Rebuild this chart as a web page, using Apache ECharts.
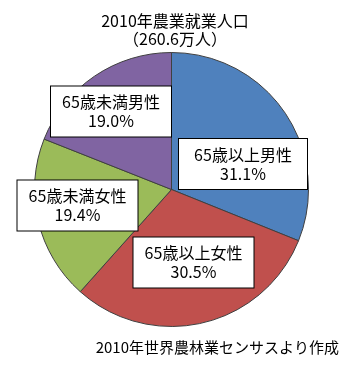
<!DOCTYPE html>
<html>
<head>
<meta charset="utf-8">
<script src="https://cdn.jsdelivr.net/npm/echarts@6/dist/echarts.min.js"></script>
<style>html,body{margin:0;padding:0;background:#fff}#c{width:356px;height:365px}</style>
</head>
<body>
<div id="c"></div>
<script>
var categories = ['65歳以上男性', '65歳以上女性', '65歳未満女性', '65歳未満男性'];
var values = [31.1, 30.5, 19.4, 19.0];
var titleLines = ['2010年農業就業人口', '（260.6万人）'];
var sourceNote = '2010年世界農林業センサスより作成';

var colors = ['#4F81BD', '#C0504D', '#9BBB59', '#8064A2'];
// label box centers (layout only)
var labelCenters = [[243, 164], [193.5, 262.5], [77.5, 205.5], [111, 111.5]];
var labelWidths = [108, 100, 100, 100];
var FONT = '"Noto Sans CJK JP", sans-serif';

var chart = echarts.init(document.getElementById('c'));
chart.setOption({
  backgroundColor: '#fff',
  animation: false,
  title: [{
    text: titleLines.join('\n'),
    left: 170, top: 7, textAlign: 'center',
    textStyle: {fontFamily: FONT, fontSize: 16, fontWeight: 'normal', color: '#000', lineHeight: 18}
  }, {
    text: sourceNote,
    right: 12, top: 335,
    textStyle: {fontFamily: FONT, fontSize: 15, fontWeight: 'normal', color: '#000'}
  }],
  series: [{
    type: 'pie',
    center: [171.5, 189.5],
    radius: 137,
    startAngle: 90,
    clockwise: true,
    itemStyle: {borderColor: '#404040', borderWidth: 1},
    label: {
      show: true,
      position: 'inside',
      fontFamily: FONT,
      fontSize: 16,
      color: '#000',
      lineHeight: 19,
      backgroundColor: '#fff',
      borderColor: '#000',
      borderWidth: 1,
      padding: [6, 10],
      align: 'center',
      formatter: function (p) { return p.name + '\n' + p.value.toFixed(1) + '%'; }
    },
    labelLine: {show: false},
    labelLayout: function (p) {
      var c = labelCenters[p.dataIndex];
      return {x: c[0], y: c[1], align: 'center', verticalAlign: 'middle'};
    },
    data: categories.map(function (n, i) {
      return {name: n, value: values[i], itemStyle: {color: colors[i]}, label: {width: labelWidths[i]}};
    })
  }]
});
</script>
</body>
</html>
